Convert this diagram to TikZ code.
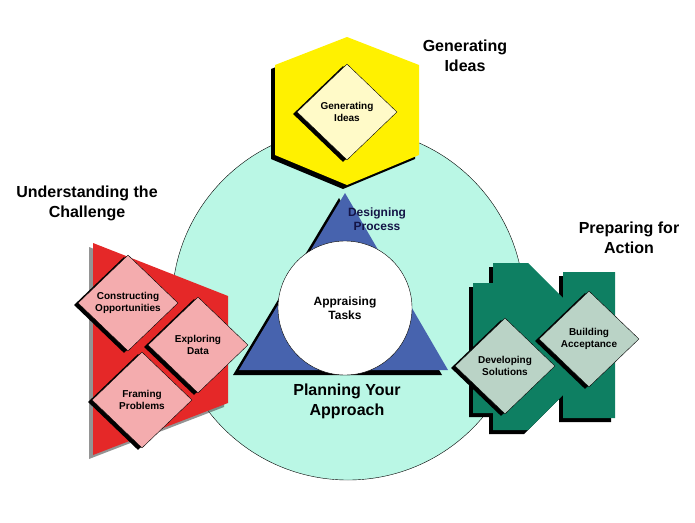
\documentclass[tikz,border=0pt]{standalone}
\usepackage{fontspec}
\setmainfont{Liberation Sans}
\usetikzlibrary{shapes.geometric,shadows}
\definecolor{aqua}{RGB}{186,247,229}
\definecolor{hexyellow}{RGB}{255,241,0}
\definecolor{paleyellow}{RGB}{255,250,200}
\definecolor{triblue}{RGB}{71,99,174}
\definecolor{redside}{RGB}{229,40,40}
\definecolor{pinkbox}{RGB}{244,172,174}
\definecolor{greenside}{RGB}{14,127,98}
\definecolor{sagebox}{RGB}{186,211,198}
\definecolor{navytext}{RGB}{20,20,70}

\begin{document}
\begin{tikzpicture}[x=1pt,y=-1pt]
\tikzstyle{every node}=[font=\bfseries\fontsize{10}{12.5}\selectfont,align=center]
\tikzstyle{head}=[font=\bfseries\fontsize{16}{20}\selectfont]
\tikzstyle{mid}=[font=\bfseries\fontsize{12}{14}\selectfont]
\tikzstyle{box}=[diamond,draw=black,thin,inner sep=0pt,minimum width=100pt,minimum height=96pt,
  drop shadow={shadow xshift=-4pt,shadow yshift=-2pt,fill=black,opacity=1}]
\useasboundingbox (0,0) rectangle (695,522);
% the big circle
\draw[fill=aqua,thin](348,304) circle (176);
% triangle and centre
\fill[triblue,drop shadow={shadow xshift=-6pt,shadow yshift=-5pt,fill=black,opacity=1}]
(345,193)--(448,370)--(239,370)--cycle;
\node[mid,text=navytext] (dp) at (377,219) {Designing\\Process};
\node[mid,circle,draw,thin,fill=white,minimum size=134pt] (at) at (345,308) {Appraising\\Tasks};
\node[head] (py) at (347,401) {Planning Your\\Approach};
% top: yellow hexagon
\fill[hexyellow,drop shadow={shadow xshift=-4pt,shadow yshift=-4pt,fill=black,opacity=1}]
(347,37)--(419,65)--(419,155)--(347,185)--(275,155)--(275,65)--cycle;
\node[box,fill=paleyellow] (gd) at (347,112) {Generating\\Ideas};
\node[head] (gi) at (465,56) {Generating\\Ideas};
% left: red block
\fill[redside,drop shadow={shadow xshift=-4pt,shadow yshift=-4pt,fill=black!70,opacity=.6}]
(93,243)--(228,296)--(228,403)--(93,455)--cycle;
\node[box,fill=pinkbox] (co) at (128,303) {Constructing\\Opportunities};
\node[box,fill=pinkbox] (ed) at (198,345) {Exploring\\Data};
\node[box,fill=pinkbox] (fp) at (142,400) {Framing\\Problems};
\node[head] (uc) at (87,203) {Understanding the\\Challenge};
% right: green block
\fill[greenside,drop shadow={shadow xshift=-4pt,shadow yshift=-4pt,fill=black,opacity=1}]
(493,263)--(528,263)--(563,298)--(563,272)--(615,272)--(615,418)--(563,418)--(563,395)
--(528,430)--(493,430)--(493,413)--(473,413)--(473,283)--(493,283)--cycle;
\node[box,fill=sagebox] (ds) at (505,366) {Developing\\Solutions};
\node[box,fill=sagebox] (ba) at (589,339) {Building\\Acceptance};
\node[head] (pa) at (629,238) {Preparing for\\Action};
\end{tikzpicture}
\end{document}
